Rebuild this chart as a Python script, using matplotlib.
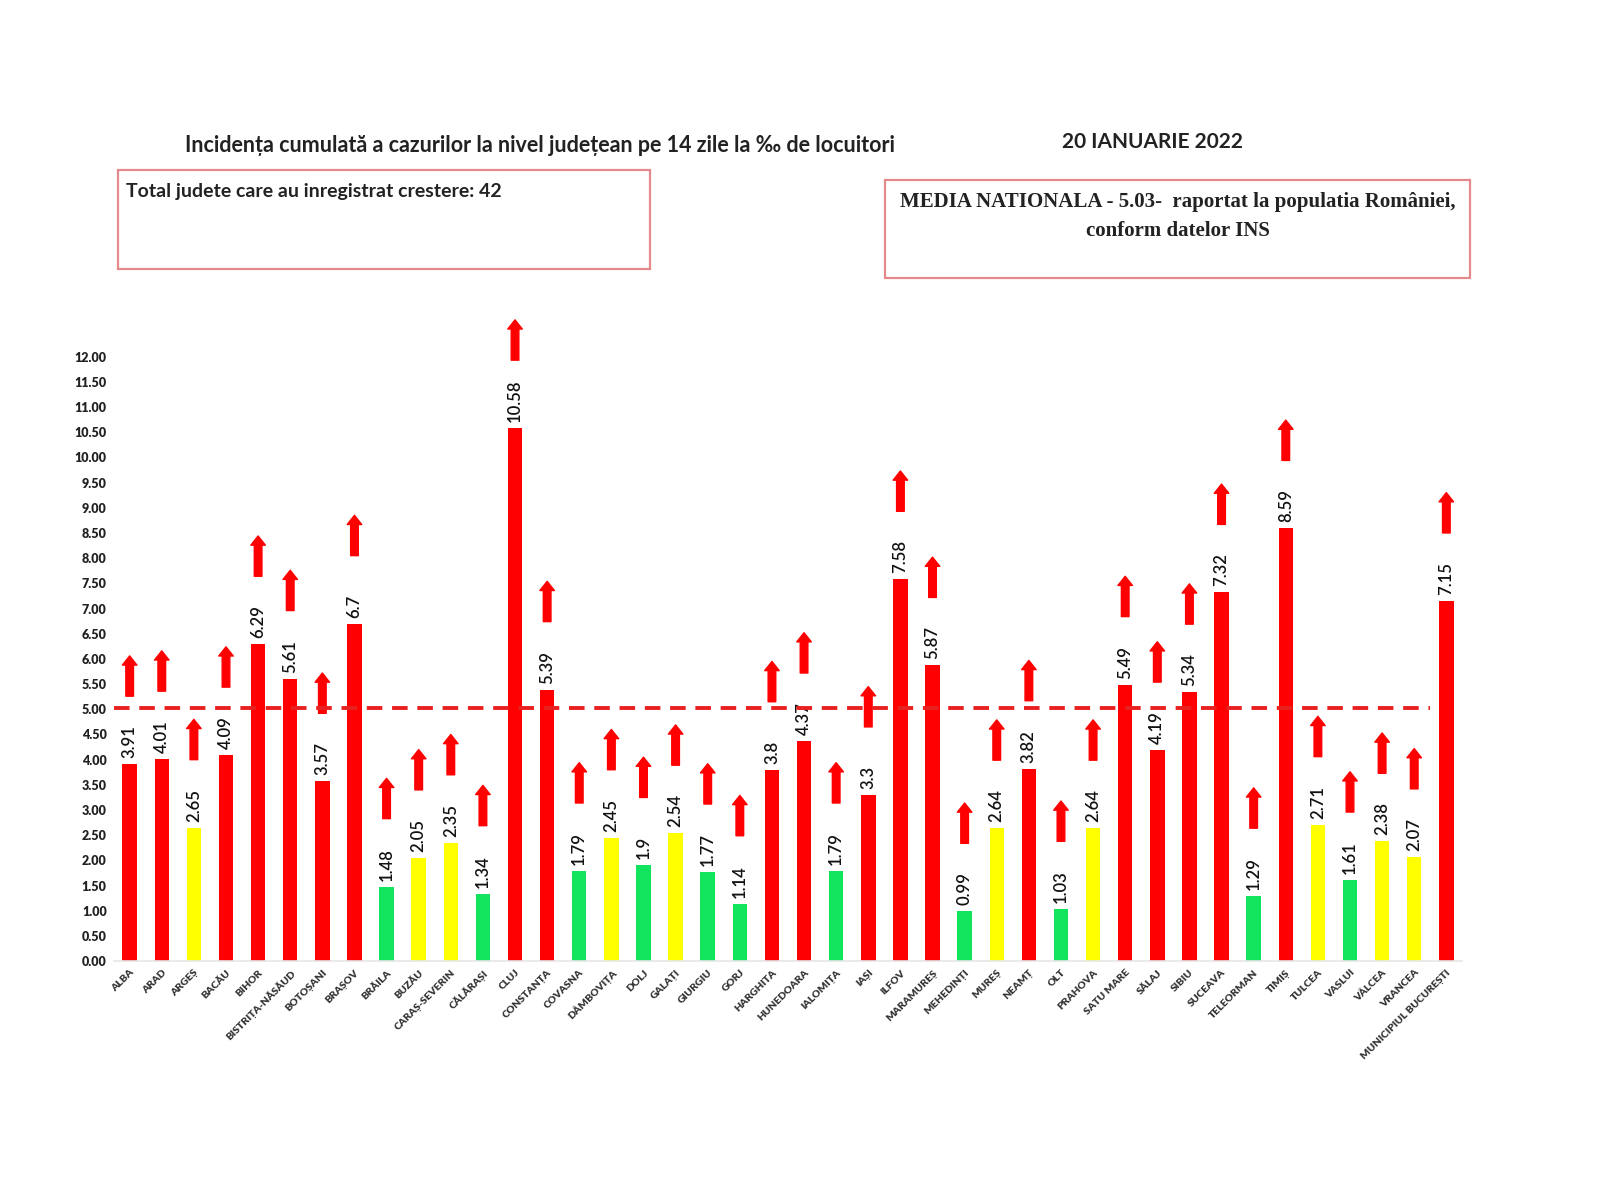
import matplotlib
matplotlib.use("Agg")
import matplotlib.pyplot as plt
from matplotlib.patches import Rectangle
import numpy as np

counties = ["ALBA", "ARAD", "ARGEȘ", "BACĂU", "BIHOR", "BISTRIȚA-NĂSĂUD", "BOTOȘANI",
            "BRAȘOV", "BRĂILA", "BUZĂU", "CARAȘ-SEVERIN", "CĂLĂRAȘI", "CLUJ", "CONSTANȚA",
            "COVASNA", "DÂMBOVIȚA", "DOLJ", "GALAȚI", "GIURGIU", "GORJ", "HARGHITA",
            "HUNEDOARA", "IALOMIȚA", "IAȘI", "ILFOV", "MARAMUREȘ", "MEHEDINȚI", "MUREȘ",
            "NEAMȚ", "OLT", "PRAHOVA", "SATU MARE", "SĂLAJ", "SIBIU", "SUCEAVA",
            "TELEORMAN", "TIMIȘ", "TULCEA", "VASLUI", "VÂLCEA", "VRANCEA",
            "MUNICIPIUL BUCUREȘTI"]
values = [3.91, 4.01, 2.65, 4.09, 6.29, 5.61, 3.57, 6.7, 1.48, 2.05, 2.35, 1.34,
          10.58, 5.39, 1.79, 2.45, 1.9, 2.54, 1.77, 1.14, 3.8, 4.37, 1.79, 3.3,
          7.58, 5.87, 0.99, 2.64, 3.82, 1.03, 2.64, 5.49, 4.19, 5.34, 7.32, 1.29,
          8.59, 2.71, 1.61, 2.38, 2.07, 7.15]
value_labels = ["3.91", "4.01", "2.65", "4.09", "6.29", "5.61", "3.57", "6.7", "1.48",
                "2.05", "2.35", "1.34", "10.58", "5.39", "1.79", "2.45", "1.9", "2.54",
                "1.77", "1.14", "3.8", "4.37", "1.79", "3.3", "7.58", "5.87", "0.99",
                "2.64", "3.82", "1.03", "2.64", "5.49", "4.19", "5.34", "7.32", "1.29",
                "8.59", "2.71", "1.61", "2.38", "2.07", "7.15"]
national_avg = 5.03
yticks = np.arange(0, 12.01, 0.5)

RED, YELLOW, GREEN = "#ff0000", "#ffff00", "#12e45e"
def col(v):
    if v >= 3:
        return RED
    if v >= 2:
        return YELLOW
    return GREEN

NARROW = ["Lato", "DejaVu Sans"]
SERIF = ["Liberation Serif", "DejaVu Serif"]

fig = plt.figure(figsize=(16, 12), dpi=100)
ax = fig.add_axes([0.071, 0.199, 0.843, 0.529])

x = np.arange(len(counties))
ax.bar(x, values, width=0.45, color=[col(v) for v in values], zorder=2)

for i, (v, lab) in enumerate(zip(values, value_labels)):
    ax.text(i, v + 0.12, lab, rotation=90, ha="center", va="bottom",
            fontsize=12, fontweight="semibold", family=NARROW, color="#111111", zorder=4)
    ax.annotate("", xy=(i, v + 2.15), xytext=(i, v + 1.35),
                arrowprops=dict(arrowstyle="simple,head_length=0.6,head_width=0.95,tail_width=0.5",
                                color=RED, mutation_scale=11, shrinkA=0, shrinkB=0),
                zorder=3, annotation_clip=False)

ax.plot([-0.5, len(counties) - 1.5], [national_avg, national_avg], ls=(0, (4, 2.5)),
        color="#e82020", lw=2.8, zorder=5)

ax.set_xlim(-0.5, len(counties) - 0.5)
ax.set_ylim(0, 12.6)
ax.set_yticks(yticks)
ax.set_yticklabels([f"{t:.2f}" for t in yticks], fontsize=9, fontweight="heavy",
                   family=NARROW, color="#222222")
ax.set_xticks(x)
ax.set_xticklabels(counties, rotation=45, ha="right", rotation_mode="anchor",
                   fontsize=7.5, fontweight="heavy", family=NARROW, color="#333333")
ax.tick_params(axis="both", length=0, pad=5)
for s in ["top", "right", "left"]:
    ax.spines[s].set_visible(False)
ax.spines["bottom"].set_color("#e6e6e6")
ax.spines["bottom"].set_linewidth(1.2)

W, H = 1600, 1200
def fx(px): return px / W
def fy(py): return 1 - py / H

fig.text(fx(540), fy(146), "Incidența cumulată a cazurilor la nivel județean pe 14 zile la ‰ de locuitori",
         ha="center", va="center", fontsize=15.5, fontweight="bold", family=NARROW, color="#222222")
fig.text(fx(1152), fy(142), "20 IANUARIE 2022", ha="center", va="center", fontsize=15,
         fontweight="bold", family=NARROW, color="#222222")

box_kw = dict(fill=False, edgecolor="#e58a8a", linewidth=1.6, transform=fig.transFigure)
fig.patches.append(Rectangle((fx(118), fy(269)), fx(650) - fx(118), fy(170) - fy(269), **box_kw))
fig.patches.append(Rectangle((fx(885), fy(278)), fx(1470) - fx(885), fy(180) - fy(278), **box_kw))

fig.text(fx(126), fy(192), "Total judete care au inregistrat crestere: 42", ha="left", va="center",
         fontsize=14, fontweight="bold", family=NARROW, color="#222222")
fig.text(fx(1178), fy(202), "MEDIA NATIONALA - 5.03-  raportat la populatia României,",
         ha="center", va="center", fontsize=15, fontweight="bold", family=SERIF, color="#222222")
fig.text(fx(1178), fy(231), "conform datelor INS", ha="center", va="center", fontsize=15,
         fontweight="bold", family=SERIF, color="#222222")

fig.savefig("out.png", dpi=100, facecolor="white")
